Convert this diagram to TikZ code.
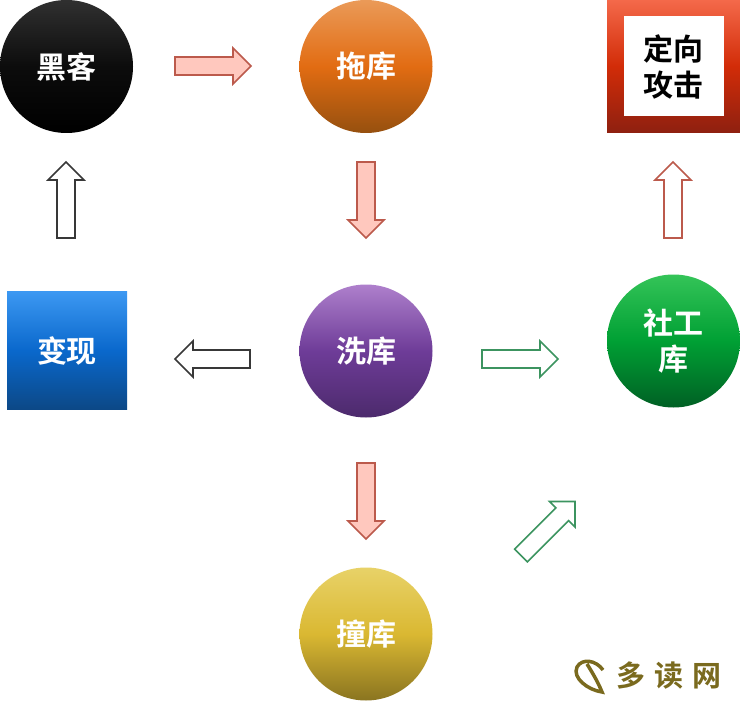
\documentclass[tikz,border=0pt]{standalone}
\usepackage{fontspec}
\setmainfont{Noto Sans CJK SC}[BoldFont={Noto Sans CJK SC Bold}]
\usetikzlibrary{calc}
\definecolor{redline}{HTML}{BC5A4C}
\definecolor{redfill}{HTML}{FFC8BE}
\definecolor{greenline}{HTML}{3C9460}
\definecolor{darkline}{HTML}{383838}
\definecolor{logo}{HTML}{7A6A1E}
\definecolor{k1}{HTML}{303030}\definecolor{k2}{HTML}{0C0C0C}\definecolor{k3}{HTML}{000000}
\definecolor{o1}{HTML}{EA9A58}\definecolor{o2}{HTML}{E26C12}\definecolor{o3}{HTML}{96500F}
\definecolor{p1}{HTML}{AE80CC}\definecolor{p2}{HTML}{6E3C98}\definecolor{p3}{HTML}{4C2A6C}
\definecolor{g1}{HTML}{34C458}\definecolor{g2}{HTML}{00A034}\definecolor{g3}{HTML}{006024}
\definecolor{y1}{HTML}{E8D268}\definecolor{y2}{HTML}{DAB832}\definecolor{y3}{HTML}{8A7420}
\definecolor{b1}{HTML}{3C98F2}\definecolor{b2}{HTML}{0A68CC}\definecolor{b3}{HTML}{0C4886}
\definecolor{r1}{HTML}{F4694A}\definecolor{r2}{HTML}{D22C08}\definecolor{r3}{HTML}{8E2010}
\tikzset{
  labeltext/.style={font=\bfseries\fontsize{30}{36}\selectfont,align=center},
  ball/.style={circle,minimum size=133pt,inner sep=0pt,text=white,labeltext},
  squarebox/.style={rectangle,inner sep=0pt,text=white,labeltext},
  hollow/.style={draw=darkline,line width=1.6pt,fill=white},
  hollowred/.style={draw=redline,line width=1.6pt,fill=white},
  hollowgreen/.style={draw=greenline,line width=1.6pt,fill=white},
  solidred/.style={draw=redline,line width=1.6pt,fill=redfill},
  tricolor/.style n args={3}{top color=#1,bottom color=#3,middle color=#2},
}
% #1 style, #2 tail, #3 tip
\newcommand{\blockarrow}[3]{%
  \coordinate (hb) at ($(#3)!18pt!(#2)$);
  \draw[#1] ($(#2)!9pt!90:(#3)$) -- ($(hb)!9pt!-90:(#2)$) -- ($(hb)!18pt!-90:(#2)$) -- (#3)
    -- ($(hb)!18pt!90:(#2)$) -- ($(hb)!9pt!90:(#2)$) -- ($(#2)!9pt!-90:(#3)$) -- cycle;
}
\begin{document}
\begin{tikzpicture}[x=1pt,y=-1pt]
\useasboundingbox (0,0) rectangle (740,701);
\fill[white] (0,0) rectangle (740,701);
\node[ball,tricolor={k1}{k2}{k3}] (hacker) at (66.5,66.5) {\raisebox{-1pt}{黑客}};
\node[ball,tricolor={o1}{o2}{o3}] (drag) at (366,66.5) {\raisebox{-1pt}{拖库}};
\node[squarebox,minimum size=133pt,tricolor={r1}{r2}{r3}] (attackbg) at (673.5,66.5) {};
\node[squarebox,fill=white,text=black,minimum size=100pt] (attack) at (673.5,66.5) {定向\\攻击};
\node[squarebox,minimum width=120pt,minimum height=118pt,tricolor={b1}{b2}{b3}] (cash) at (67,350.5) {\raisebox{-1pt}{变现}};
\node[ball,tricolor={p1}{p2}{p3}] (wash) at (366,351) {\raisebox{-1pt}{洗库}};
\node[ball,tricolor={g1}{g2}{g3}] (social) at (673.5,341) {社工\\库};
\node[ball,tricolor={y1}{y2}{y3}] (stuff) at (366,634) {\raisebox{-1pt}{撞库}};
\coordinate (a1) at (175,66); \coordinate (a2) at (251,66);
\coordinate (b1) at (366,162); \coordinate (b2) at (366,238);
\coordinate (c1) at (66,238); \coordinate (c2) at (66,162);
\coordinate (d1) at (673,238); \coordinate (d2) at (673,162);
\coordinate (e1) at (250,359); \coordinate (e2) at (175,359);
\coordinate (f1) at (482,359); \coordinate (f2) at (558,359);
\coordinate (g1) at (366,463); \coordinate (g2) at (366,539);
\coordinate (h1) at (521,555.5); \coordinate (h2) at (575,501.5);
\blockarrow{solidred}{a1}{a2}
\blockarrow{solidred}{b1}{b2}
\blockarrow{hollow}{c1}{c2}
\blockarrow{hollowred}{d1}{d2}
\blockarrow{hollow}{e1}{e2}
\blockarrow{hollowgreen}{f1}{f2}
\blockarrow{solidred}{g1}{g2}
\blockarrow{hollowgreen}{h1}{h2}
\draw[logo,line width=3.5pt] (603,670) .. controls (596,660) and (582,658) .. (577,667) .. controls (572,678) and (588,690) .. (602,692) .. controls (598,682) and (592,672) .. (587,664);
\node[text=logo,font=\bfseries\fontsize{29}{31}\selectfont,inner sep=0pt] (wm) at (669,676) {多\hspace{9pt}读\hspace{9pt}网};
\end{tikzpicture}
\end{document}
